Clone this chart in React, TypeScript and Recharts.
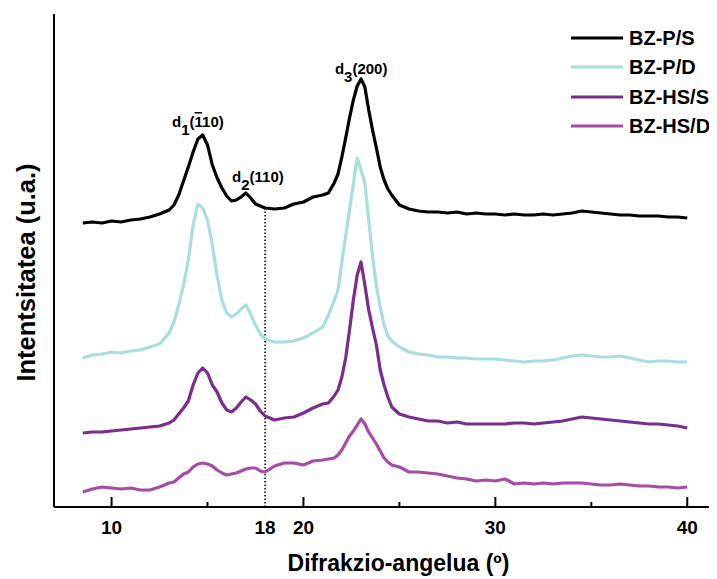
import React from 'react';
import { LineChart, Line, XAxis, YAxis, ReferenceLine, ReferenceDot, Legend } from 'recharts';

const FONT = '"Liberation Sans", Arial, Helvetica, sans-serif';

// 2-theta angles (degrees)
const ANGLE = [8.5, 9, 9.5, 10, 10.5, 11, 11.5, 12, 12.5, 13,
  13.25, 13.5, 13.75, 14, 14.25, 14.5, 14.75, 15, 15.25, 15.5, 15.75, 16, 16.25, 16.5, 16.75, 17, 17.25, 17.5, 17.75, 18,
  18.5, 19, 19.5, 20, 20.5, 21, 21.3,
  21.6, 21.8, 22, 22.2, 22.4, 22.6, 22.8, 23, 23.2, 23.4, 23.6, 23.8, 24, 24.2, 24.4, 24.6,
  25, 25.5, 26, 26.5, 27, 27.5, 28, 28.5, 29, 29.5, 30, 30.5, 31, 31.5, 32, 32.5, 33, 33.5, 34, 34.5, 35, 35.5, 36, 36.5, 37, 37.5, 38, 38.5, 39, 39.5, 40];

// intensities (a.u., stacked with offsets as in the figure)
const BZ_P_S = [284, 285, 284, 286, 285, 287, 288, 290, 293, 297,
  302, 312, 326, 340, 355, 368, 372, 362, 342, 329, 319, 311, 306, 307, 310, 314, 309, 303, 301, 299,
  298, 299, 303, 305, 310, 312, 314,
  324, 333, 350, 369, 389, 407, 421, 428, 420, 397, 377, 359, 340, 327, 318, 312,
  302, 298, 296, 295, 295, 294, 295, 293, 294, 293, 293, 292, 293, 292, 292, 293, 292, 293, 294, 296, 295, 294, 293, 292, 292, 291, 291, 291, 290, 290, 289];

const BZ_P_D = [149, 152, 153, 155, 154, 156, 157, 160, 163, 174,
  185, 202, 222, 247, 282, 303, 299, 287, 262, 231, 207, 194, 190, 193, 198, 202, 193, 182, 173, 168,
  165, 165, 166, 169, 174, 180, 192,
  206, 217, 245, 271, 297, 323, 349, 337, 324, 287, 251, 221, 200, 182, 171, 166,
  160, 155, 153, 152, 150, 150, 149, 149, 148, 148, 148, 147, 146, 145, 146, 146, 147, 149, 151, 152, 151, 150, 150, 151, 149, 147, 145, 146, 146, 145, 145];

const BZ_HS_S = [74, 75, 75, 76, 77, 78, 79, 80, 81, 84,
  87, 93, 99, 106, 122, 134, 139, 134, 122, 115, 104, 97, 95, 99, 105, 110, 107, 103, 96, 91,
  87, 89, 90, 94, 99, 103, 104,
  111, 117, 130, 149, 177, 207, 232, 245, 222, 197, 179, 162, 137, 122, 110, 100,
  93, 90, 88, 86, 86, 84, 85, 83, 83, 83, 83, 83, 84, 84, 83, 84, 85, 86, 88, 90, 89, 88, 87, 86, 85, 84, 83, 83, 82, 81, 79];

const BZ_HS_D = [15, 18, 20, 19, 18, 19, 17, 17, 20, 24,
  25, 29, 33, 35, 40, 43, 44, 43, 41, 37, 34, 32, 33, 34, 36, 38, 39, 39, 36, 35,
  41, 44, 44, 42, 46, 47, 48,
  49, 52, 57, 64, 71, 76, 82, 88, 83, 75, 69, 63, 56, 49, 45, 42,
  40, 35, 35, 34, 33, 31, 29, 28, 26, 27, 26, 28, 23, 24, 23, 24, 23, 24, 24, 24, 23, 22, 22, 23, 22, 21, 21, 20, 20, 19, 20];

const SERIES_KEYS = ['ps', 'pd', 'hss', 'hsd'];
const SERIES_NAMES = ['BZ-P/S', 'BZ-P/D', 'BZ-HS/S', 'BZ-HS/D'];
const SERIES_COLORS = ['#000000', '#a8dede', '#7a2d8d', '#a84aa8'];

const X_TICKS = [10, 15, 18, 20, 25, 30, 35, 40];
const X_MAJOR = [10, 20, 30, 40];
const X_MINOR = [15, 25, 35];
const X_DOMAIN = [7, 41.55];
const Y_DOMAIN = [0, 493];

const MARKER_ANGLE = 18;
const MARKER_TOP = 299;

const PEAK_ANGLES = [13.15, 16.28, 21.64];
const PEAK_LEVELS = [380, 325, 433];
const PEAK_SUBS = ['1', '2', '3'];
const PEAK_PRE = ['(', '(110)', '(200)'];
const PEAK_BAR = ['1', '', ''];
const PEAK_POST = ['10)', '', ''];

const data = ANGLE.map((a, i) => ({ angle: a, ps: BZ_P_S[i], pd: BZ_P_D[i], hss: BZ_HS_S[i], hsd: BZ_HS_D[i] }));

function XTick(props: any) {
  const { x, y, payload } = props;
  const v = payload.value;
  const major = X_MAJOR.includes(v);
  const minor = X_MINOR.includes(v);
  return (
    <g>
      {major && <line x1={x} x2={x} y1={y} y2={y - 10} stroke="#000" strokeWidth={2} />}
      {minor && <line x1={x} x2={x} y1={y} y2={y - 5} stroke="#000" strokeWidth={2} />}
      {!minor && (
        <text x={x} y={y + 27} textAnchor="middle" fontFamily={FONT} fontSize={19} fontWeight="bold" fill="#000">
          {v}
        </text>
      )}
    </g>
  );
}

function PeakLabel(props: any) {
  const { cx, cy, i } = props;
  return (
    <text x={cx} y={cy} fontFamily={FONT} fontSize={15} fontWeight="bold" fill="#000">
      d<tspan dy={8}>{PEAK_SUBS[i]}</tspan>
      <tspan dy={-8}>{PEAK_PRE[i]}</tspan>
      {PEAK_BAR[i] ? <tspan style={{ textDecoration: 'overline' }}>{PEAK_BAR[i]}</tspan> : null}
      {PEAK_POST[i] ? <tspan>{PEAK_POST[i]}</tspan> : null}
    </text>
  );
}

const renderLegend = () => (
  <div style={{ fontFamily: FONT }}>
    {SERIES_NAMES.map((n, i) => (
      <div key={n} style={{ display: 'flex', alignItems: 'center', height: 29.5 }}>
        <svg width={52} height={6} style={{ display: 'block' }}>
          <line x1={0} x2={52} y1={3} y2={3} stroke={SERIES_COLORS[i]} strokeWidth={3} />
        </svg>
        <span style={{ marginLeft: 6, fontSize: 20, fontWeight: 'bold', color: '#000', lineHeight: 1 }}>{n}</span>
      </div>
    ))}
  </div>
);

export default function App() {
  return (
    <div style={{ width: 709, height: 571 }}>
      <style>{'html,body{overflow:hidden}'}</style>
      <LineChart width={709} height={571} data={data} margin={{ top: 6, right: 0, left: 0, bottom: 0 }}>
        <XAxis
          dataKey="angle"
          type="number"
          domain={X_DOMAIN}
          ticks={X_TICKS}
          interval={0}
          allowDataOverflow
          tick={(p: any) => <XTick {...p} />}
          tickLine={false}
          tickSize={0}
          tickMargin={0}
          height={72}
          axisLine={{ stroke: '#000', strokeWidth: 2 }}
          label={{
            content: (p: any) => {
              const vb = p.viewBox;
              return (
                <text x={vb.x + vb.width / 2 + 13} y={vb.y + 64} textAnchor="middle" fontFamily={FONT} fontSize={23} fontWeight="bold" fill="#000">
                  Difrakzio-angelua (º)
                </text>
              );
            },
          }}
        />
        <XAxis xAxisId="top" orientation="top" type="number" domain={X_DOMAIN} height={0} tick={false} tickLine={false} axisLine={{ stroke: '#000', strokeWidth: 2 }} />
        <YAxis
          type="number"
          domain={Y_DOMAIN}
          width={46}
          tick={false}
          tickLine={false}
          axisLine={{ stroke: '#000', strokeWidth: 2 }}
          label={{
            content: (p: any) => {
              const vb = p.viewBox;
              const cx = vb.x + 18;
              const cy = vb.y + vb.height / 2 + 12;
              return (
                <text x={cx} y={cy} transform={`rotate(-90 ${cx} ${cy})`} textAnchor="middle" dominantBaseline="central" fontFamily={FONT} fontSize={25.5} fontWeight="bold" fill="#000">
                  Intentsitatea (u.a.)
                </text>
              );
            },
          }}
        />
        <ReferenceLine
          segment={[{ x: MARKER_ANGLE, y: 0 }, { x: MARKER_ANGLE, y: MARKER_TOP }]}
          stroke="#000"
          strokeWidth={1.5}
          strokeDasharray="1.5 2"
        />
        {SERIES_KEYS.map((k, i) => (
          <Line
            key={k}
            dataKey={k}
            name={SERIES_NAMES[i]}
            stroke={SERIES_COLORS[i]}
            strokeWidth={3.2}
            strokeLinejoin="round"
            dot={false}
            activeDot={false}
            type="linear"
            isAnimationActive={false}
          />
        ))}
        {PEAK_ANGLES.map((a, i) => (
          <ReferenceDot key={i} x={a} y={PEAK_LEVELS[i]} r={0} ifOverflow="visible" shape={(p: any) => <PeakLabel cx={p.cx} cy={p.cy} i={i} />} />
        ))}
        <Legend
          layout="vertical"
          align="center"
          verticalAlign="middle"
          content={renderLegend}
          wrapperStyle={{ top: 15, left: 563, width: 146 }}
        />
      </LineChart>
    </div>
  );
}
